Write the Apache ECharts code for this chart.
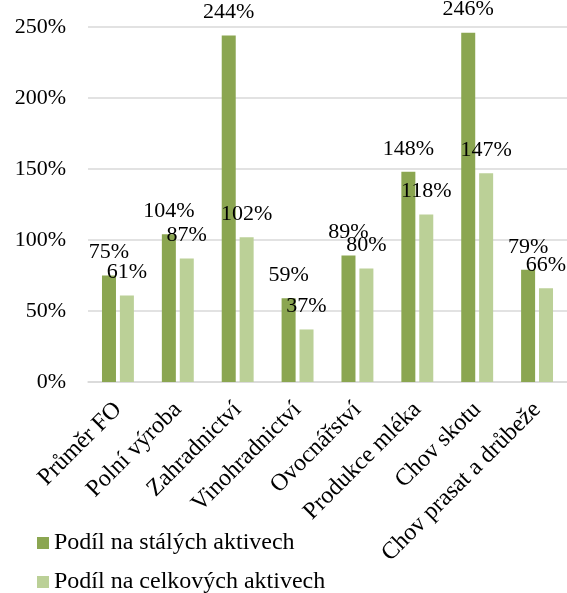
<!DOCTYPE html>
<html>
<head>
<meta charset="utf-8">
<script src="https://cdn.jsdelivr.net/npm/echarts@6/dist/echarts.min.js"></script>
<style>
  html, body { margin: 0; padding: 0; background: #fff; }
  #chart { width: 567px; height: 593px; }
</style>
</head>
<body>
<div id="chart"></div>
<script>
  var categories = ['Průměr FO', 'Polní výroba', 'Zahradnictví', 'Vinohradnictví', 'Ovocnářství', 'Produkce mléka', 'Chov skotu', 'Chov prasat a drůbeže'];
  var stale = [75, 104, 244, 59, 89, 148, 246, 79];
  var celkove = [61, 87, 102, 37, 80, 118, 147, 66];
  var seriesNames = ['Podíl na stálých aktivech', 'Podíl na celkových aktivech'];

  var font = "'Liberation Serif', 'Times New Roman', serif";
  var myEcharts = echarts.init(document.getElementById('chart'));

  var label = {
    show: true,
    position: 'top',
    distance: 12,
    color: '#000',
    fontFamily: font,
    fontSize: 22,
    formatter: '{c}%'
  };

  // jedna legenda na radek, aby se polozky nezalamovaly vedle sebe
  function legendRow(name, top) {
    return {
      data: [name],
      left: 37,
      top: top,
      padding: 0,
      itemWidth: 12,
      itemHeight: 12,
      icon: 'rect',
      textStyle: { color: '#000', fontFamily: font, fontSize: 24 }
    };
  }

  var options = {
    animation: false,
    textStyle: { fontFamily: font },
    grid: { left: 88, right: 0, top: 27, bottom: 211 },
    legend: [legendRow(seriesNames[0], 531), legendRow(seriesNames[1], 570)],
    xAxis: {
      type: 'category',
      data: categories,
      axisLine: { lineStyle: { color: '#d9d9d9', width: 1.5 } },
      axisTick: { show: false },
      axisLabel: {
        rotate: 45,
        interval: 0,
        margin: 24,
        color: '#000',
        fontFamily: font,
        fontSize: 24
      }
    },
    yAxis: {
      type: 'value',
      min: 0,
      max: 250,
      interval: 50,
      axisLine: { show: false },
      axisTick: { show: false },
      splitLine: { lineStyle: { color: '#d9d9d9', width: 1.5 } },
      axisLabel: {
        margin: 22,
        color: '#000',
        fontFamily: font,
        fontSize: 22,
        formatter: '{value}%'
      }
    },
    series: [{
      name: seriesNames[0],
      type: 'bar',
      barWidth: 14,
      barGap: '28%',
      itemStyle: { color: '#8ba651' },
      label: label,
      data: stale
    }, {
      name: seriesNames[1],
      type: 'bar',
      barWidth: 14,
      itemStyle: { color: '#bbd097' },
      label: label,
      data: celkove
    }]
  };
  myEcharts.setOption(options, true);
</script>
</body>
</html>
